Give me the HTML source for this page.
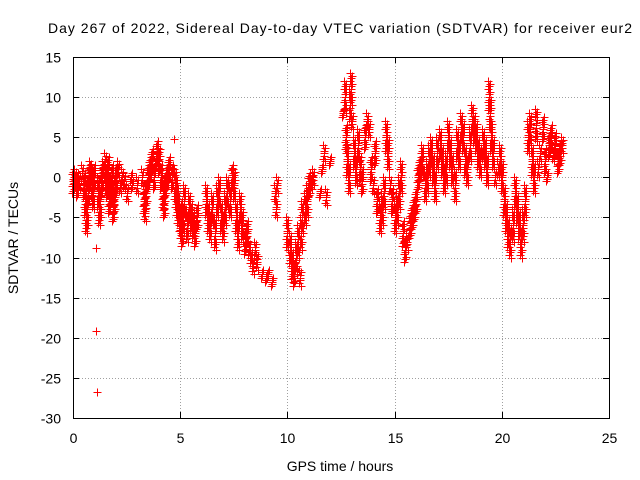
<!DOCTYPE html>
<html><head><meta charset="utf-8"><style>
html,body{margin:0;padding:0;background:#fff;}
svg{display:block;font-family:"Liberation Sans",sans-serif;}
</style></head><body>
<svg id="chart" width="640" height="480">
<text x="340" y="33" font-size="14" text-anchor="middle" textLength="584">Day 267 of 2022, Sidereal Day-to-day VTEC variation (SDTVAR) for receiver eur2</text>
<text x="340" y="471" font-size="14" text-anchor="middle">GPS time / hours</text>
<text transform="translate(18,238) rotate(-90)" font-size="14" text-anchor="middle">SDTVAR / TECUs</text>
<g id="grid"></g>
<g id="ticks"></g>
<g id="points"></g>
<rect x="73.5" y="57.5" width="536" height="361" fill="none" stroke="#000" stroke-width="1"/>
</svg>
<script>
const xTicks=[0,5,10,15,20,25];
const yTicks=[15,10,5,0,-5,-10,-15,-20,-25,-30];
const times=[0.0,0.1,0.2,0.3,0.4,0.5,0.55,0.6,0.65,0.7,0.75,0.8,0.85,0.9,0.95,1.0,1.05,1.08,1.1,1.15,1.2,1.25,1.3,1.35,1.4,1.5,1.55,1.6,1.65,1.7,1.75,1.8,1.85,1.9,1.95,2.0,2.1,2.2,2.3,2.4,2.5,2.7,2.75,3.0,3.2,3.3,3.35,3.4,3.5,3.6,3.7,3.8,3.9,4.0,4.1,4.2,4.25,4.3,4.4,4.5,4.6,4.7,4.75,4.8,4.85,4.9,5.0,5.05,5.1,5.15,5.2,5.3,5.4,5.5,5.6,5.7,5.8,6.2,6.3,6.4,6.5,6.6,6.7,6.8,6.9,7.0,7.1,7.2,7.3,7.4,7.5,7.6,7.7,7.8,7.9,8.0,8.1,8.2,8.3,8.4,8.5,8.6,8.8,9.0,9.1,9.3,9.4,9.45,9.5,10.0,10.1,10.2,10.3,10.4,10.5,10.6,10.65,10.7,10.8,10.9,11.0,11.1,11.2,11.5,11.6,11.7,11.8,12.0,12.6,12.7,12.75,12.8,12.85,12.9,12.95,13.0,13.1,13.2,13.3,13.4,13.5,13.6,13.7,13.8,13.9,14.0,14.1,14.2,14.3,14.4,14.5,14.6,14.7,14.8,14.9,15.0,15.1,15.2,15.3,15.4,15.5,15.6,15.7,15.8,15.9,16.0,16.1,16.2,16.3,16.4,16.5,16.6,16.7,16.8,16.9,17.0,17.1,17.2,17.3,17.4,17.5,17.6,17.7,17.8,17.9,18.0,18.1,18.2,18.3,18.4,18.5,18.6,18.7,18.8,18.9,19.0,19.1,19.2,19.3,19.4,19.45,19.5,19.6,19.7,19.8,19.9,20.0,20.1,20.2,20.3,20.4,20.5,20.6,20.7,20.8,20.9,21.0,21.1,21.2,21.3,21.4,21.5,21.6,21.7,21.8,21.9,22.0,22.1,22.2,22.3,22.4,22.5,22.6,22.7,22.8];
const values=[-0.5,0,-1,-0.5,0.5,-1,-3,-5,-4,-2,0,1,0.5,-1,-2,0,-8.8,-19.2,-26.8,-2,-4,-3,-1,0,1,2,0,-1,1,-3,-2,0,-4,-3,-1,0,1,-1,0,-0.5,-2,0,-1,-1,0,-3,-4.5,-2,0,1,2,0,3,2,0,-2,-3.5,-1,0,1,0,4.8,-1,-2,-3,-4,-5,-6,-7,-5,-3,-6,-4,-5,-6,-7,-5,-3,-5,-6,-4,-7,-3,-2,-5,-6,-4,-2,-3,0,-1,-5,-7,-4,-6,-8,-7,-9,-10,-11,-9,-10.5,-12,-12.5,-12,-13,-2,-4,-1,-7,-9,-11,-12,-10,-8,-12.5,-7,-5,-4,-3,-1,-0.5,0,-2,1,3,-2.5,2,8,10,5,2,0,9,11,7,3,1,4,1,-0.5,5,7,6,1,-1,3,-3,-5,-4,-2,5,3,-1,-3,-5,-4,-2,0,-7,-9,-8,-6,-5,-4,-3,0,1,2,-1,0,2,3,1,-1,3,4,2,0,1,5,3,1,-1,4,3,6,5,2,1,4,7,6,5,3,2,4,3,1,10,8,5,3,0,1,2,0,-3,-5,-7,-8,-6,-2,-4,-6,-8,-6,-3,5,6,2,0,6.5,1,3,6,2,0,4,5,3,4,2,3,4];
const spread=[1.5,1,1.5,1,1,1.5,2,2,2,1.5,1.5,1,1,1.5,2,1.5,0,0,0,2,2,2,1.5,1.5,1,1,1.5,1.5,1.5,1.5,1.5,1.5,1.5,1.5,1.5,1.5,1,1,1,1,1,0.5,0.5,1,1,1.5,1,1.5,1.5,1.5,1.5,1.5,1.5,1.5,1.5,2,1.5,1.5,1.5,1.5,1.5,0,2,2,2,2,2,1.5,1.5,2,2,2,2,2,1.5,1.5,1.5,2,2,2,2,2,2,2,2,2,2,2,2,1.5,2,2,2,2,2,1.5,1.5,1,1,1,1,1,0.5,0.5,0.5,0.5,1,1,1,2,2,2,1.5,2,2,1,2,2,2,2,1.5,1,1,0.5,0.5,1,1,0.5,0.5,2,1.5,2,2,2,2,1,2,2,2,1.5,1.5,1.5,1,1,1.5,1,1.5,1.5,2,2,2,2,2,1,1.5,2,2,2,2,1.5,1.5,1,1.5,1.5,1.5,1.5,1.5,1.5,2,2,2,2,2,2,2,2,2,2,2,2,2,2,2,2,2,2,2,2,2,2,2,2,2,2,2,2,2,2,2,2,2,2,2,1,1,2,2,2,2,2,2,2,2,2,2,2,2,2,2,2,2,2,2,1,1,1.5,1.5,0.5,1.5,1.5,1,1.5,1.5,1.5,1,1,1,1,1,1,1];
const X=h=>73+h*(536/25);
const Y=v=>57+(15-v)*(361/45);
const NS='http://www.w3.org/2000/svg';
const grid=document.getElementById('grid'),ticks=document.getElementById('ticks'),pts=document.getElementById('points');
function mk(tag,attrs,parent){const e=document.createElementNS(NS,tag);for(const k in attrs)e.setAttribute(k,attrs[k]);parent.appendChild(e);return e;}
xTicks.forEach(t=>{
 const x=Math.round(X(t))+0.5;
 if(t>0&&t<25){const g=mk('line',{x1:x,x2:x,y1:57,y2:418,stroke:'#a0a0a0','stroke-dasharray':'1,2'},grid);
 
 }
 mk('line',{x1:x,x2:x,y1:418,y2:412,stroke:'#000'},ticks);
 mk('line',{x1:x,x2:x,y1:57,y2:63,stroke:'#000'},ticks);
 const l=mk('text',{x:x,y:443,'font-size':14,'text-anchor':'middle'},ticks);l.textContent=t;
 
 
});
yTicks.forEach(t=>{
 const y=Math.round(Y(t))+0.5;
 if(t<15&&t>-30){const g=mk('line',{x1:73,x2:609,y1:y,y2:y,stroke:'#a0a0a0','stroke-dasharray':'1,2'},grid);
 
 }
 mk('line',{x1:73,x2:79,y1:y,y2:y,stroke:'#000'},ticks);
 mk('line',{x1:609,x2:603,y1:y,y2:y,stroke:'#000'},ticks);
 const l=mk('text',{x:61,y:y+5,'font-size':14,'text-anchor':'end'},ticks);l.textContent=t;
 
 
});
let d='';
function plus(x,y){x=Math.round(x)+0.5;y=Math.round(y)+0.5;d+=`M${x-4},${y}h8M${x},${y-4}v8`;}
times.forEach((t,i)=>{
 const x=X(t),v=values[i],s=spread[i]||0;
 plus(x,Y(v));
 if(s>0){
  const n=Math.ceil(s*3);
  for(let k=1;k<=n;k++){const f=k/n*s;plus(x+(k%3)-1,Y(v+f));plus(x-(k%3)+1,Y(v-f));}
 }
});
const p=mk('path',{d:d,stroke:'#ff0000','stroke-width':1,fill:'none','shape-rendering':'crispEdges'},pts);


</script>
</body></html>
